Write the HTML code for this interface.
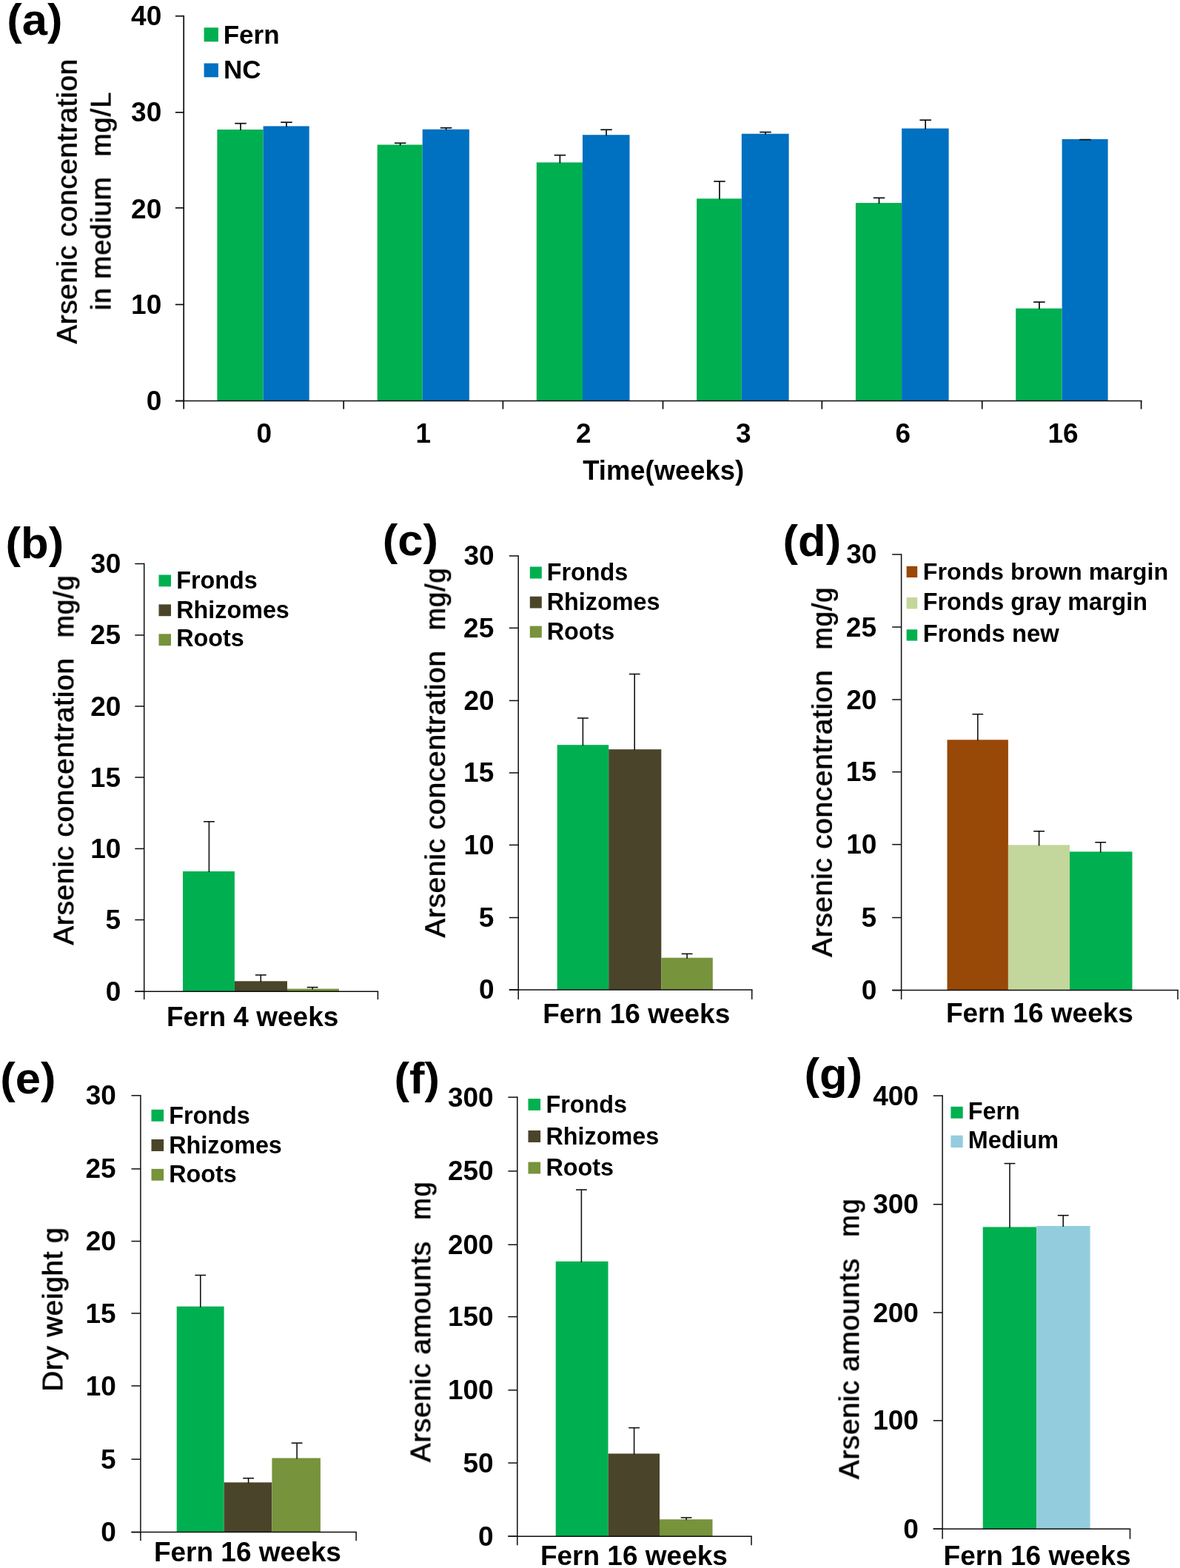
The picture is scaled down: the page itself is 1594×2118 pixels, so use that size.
<!DOCTYPE html>
<html lang="en">
<head>
<meta charset="utf-8">
<title>Arsenic accumulation in fern</title>
<style>
html,body{margin:0;padding:0;background:#fff;overflow:hidden;}
svg{display:block;}
text{fill:#000;font-family:"Liberation Sans",sans-serif;}
text.b{font-weight:bold;}
text.r{font-weight:normal;}
</style>
</head>
<body>
<svg width="1594" height="2118" viewBox="0 0 1594 2118">
<defs><filter id="fb" x="-2%" y="-30%" width="104%" height="160%" color-interpolation-filters="sRGB"><feOffset in="SourceGraphic" dx="0.9" dy="0" result="o"/><feMerge><feMergeNode in="SourceGraphic"/><feMergeNode in="o"/></feMerge></filter></defs>
<rect x="0" y="0" width="1594" height="2118" fill="#fff"/>
<text transform="translate(9.34,47.2) scale(1,0.976)" font-size="61.6" class="b" text-anchor="start">(a)</text>
<line x1="248.2" y1="20.85" x2="248.2" y2="552.5" stroke="#0d0d0d" stroke-width="1.7"/>
<line x1="236.9" y1="21.7" x2="248.2" y2="21.7" stroke="#0d0d0d" stroke-width="1.7"/>
<text x="218.24" y="34.2" font-size="37" class="b" text-anchor="end">40</text>
<line x1="236.9" y1="151.8" x2="248.2" y2="151.8" stroke="#0d0d0d" stroke-width="1.7"/>
<text x="218.24" y="164.3" font-size="37" class="b" text-anchor="end">30</text>
<line x1="236.9" y1="280.8" x2="248.2" y2="280.8" stroke="#0d0d0d" stroke-width="1.7"/>
<text x="218.24" y="294.7" font-size="37" class="b" text-anchor="end">20</text>
<line x1="236.9" y1="411.4" x2="248.2" y2="411.4" stroke="#0d0d0d" stroke-width="1.7"/>
<text x="218.24" y="423.6" font-size="37" class="b" text-anchor="end">10</text>
<line x1="236.9" y1="541.5" x2="248.2" y2="541.5" stroke="#0d0d0d" stroke-width="1.7"/>
<text x="218.24" y="553.5" font-size="37" class="b" text-anchor="end">0</text>
<rect x="293.4" y="175" width="62.2" height="366.5" fill="#00B050"/>
<rect x="355.6" y="170.4" width="62.1" height="371.1" fill="#0070C0"/>
<line x1="325" y1="166.7" x2="325" y2="176" stroke="#0d0d0d" stroke-width="1.7"/>
<line x1="317.25" y1="166.7" x2="332.75" y2="166.7" stroke="#0d0d0d" stroke-width="1.7"/>
<line x1="386.95" y1="165.2" x2="386.95" y2="171.4" stroke="#0d0d0d" stroke-width="1.7"/>
<line x1="379.2" y1="165.2" x2="394.7" y2="165.2" stroke="#0d0d0d" stroke-width="1.7"/>
<rect x="509.7" y="195.5" width="61" height="346" fill="#00B050"/>
<rect x="570.7" y="174.7" width="63.2" height="366.8" fill="#0070C0"/>
<line x1="540.7" y1="193.3" x2="540.7" y2="196.5" stroke="#0d0d0d" stroke-width="1.7"/>
<line x1="532.95" y1="193.3" x2="548.45" y2="193.3" stroke="#0d0d0d" stroke-width="1.7"/>
<line x1="602.6" y1="172.7" x2="602.6" y2="175.7" stroke="#0d0d0d" stroke-width="1.7"/>
<line x1="594.85" y1="172.7" x2="610.35" y2="172.7" stroke="#0d0d0d" stroke-width="1.7"/>
<rect x="724.8" y="219.4" width="62.2" height="322.1" fill="#00B050"/>
<rect x="787" y="182.2" width="63.5" height="359.3" fill="#0070C0"/>
<line x1="756.4" y1="209.6" x2="756.4" y2="220.4" stroke="#0d0d0d" stroke-width="1.7"/>
<line x1="748.65" y1="209.6" x2="764.15" y2="209.6" stroke="#0d0d0d" stroke-width="1.7"/>
<line x1="819.05" y1="175.2" x2="819.05" y2="183.2" stroke="#0d0d0d" stroke-width="1.7"/>
<line x1="811.3" y1="175.2" x2="826.8" y2="175.2" stroke="#0d0d0d" stroke-width="1.7"/>
<rect x="941.1" y="268.3" width="60.7" height="273.2" fill="#00B050"/>
<rect x="1001.8" y="180.7" width="63.8" height="360.8" fill="#0070C0"/>
<line x1="971.95" y1="245" x2="971.95" y2="269.3" stroke="#0d0d0d" stroke-width="1.7"/>
<line x1="964.2" y1="245" x2="979.7" y2="245" stroke="#0d0d0d" stroke-width="1.7"/>
<line x1="1034" y1="178.5" x2="1034" y2="181.7" stroke="#0d0d0d" stroke-width="1.7"/>
<line x1="1026.25" y1="178.5" x2="1041.75" y2="178.5" stroke="#0d0d0d" stroke-width="1.7"/>
<rect x="1155.9" y="274.1" width="62.2" height="267.4" fill="#00B050"/>
<rect x="1218.1" y="173.5" width="63.5" height="368" fill="#0070C0"/>
<line x1="1187.5" y1="267.3" x2="1187.5" y2="275.1" stroke="#0d0d0d" stroke-width="1.7"/>
<line x1="1179.75" y1="267.3" x2="1195.25" y2="267.3" stroke="#0d0d0d" stroke-width="1.7"/>
<line x1="1250.15" y1="162.2" x2="1250.15" y2="174.5" stroke="#0d0d0d" stroke-width="1.7"/>
<line x1="1242.4" y1="162.2" x2="1257.9" y2="162.2" stroke="#0d0d0d" stroke-width="1.7"/>
<rect x="1372.2" y="416.6" width="62.4" height="124.9" fill="#00B050"/>
<rect x="1434.6" y="188" width="62" height="353.5" fill="#0070C0"/>
<line x1="1403.9" y1="408" x2="1403.9" y2="417.6" stroke="#0d0d0d" stroke-width="1.7"/>
<line x1="1396.15" y1="408" x2="1411.65" y2="408" stroke="#0d0d0d" stroke-width="1.7"/>
<line x1="1465.9" y1="188.6" x2="1465.9" y2="189" stroke="#0d0d0d" stroke-width="1.7"/>
<line x1="1458.15" y1="188.6" x2="1473.65" y2="188.6" stroke="#0d0d0d" stroke-width="1.7"/>
<line x1="237" y1="541.5" x2="1542.6" y2="541.5" stroke="#0d0d0d" stroke-width="1.7"/>
<line x1="464.2" y1="541.5" x2="464.2" y2="552.6" stroke="#0d0d0d" stroke-width="1.7"/>
<line x1="679.4" y1="541.5" x2="679.4" y2="552.6" stroke="#0d0d0d" stroke-width="1.7"/>
<line x1="895.5" y1="541.5" x2="895.5" y2="552.6" stroke="#0d0d0d" stroke-width="1.7"/>
<line x1="1110.3" y1="541.5" x2="1110.3" y2="552.6" stroke="#0d0d0d" stroke-width="1.7"/>
<line x1="1326.7" y1="541.5" x2="1326.7" y2="552.6" stroke="#0d0d0d" stroke-width="1.7"/>
<line x1="1541.6" y1="541.5" x2="1541.6" y2="552.6" stroke="#0d0d0d" stroke-width="1.7"/>
<text x="346.62" y="597.8" font-size="37" class="b" text-anchor="start">0</text>
<text x="561.59" y="597.8" font-size="37" class="b" text-anchor="start">1</text>
<text x="778.03" y="597.8" font-size="37" class="b" text-anchor="start">2</text>
<text x="994.01" y="597.8" font-size="37" class="b" text-anchor="start">3</text>
<text x="1209.62" y="597.8" font-size="37" class="b" text-anchor="start">6</text>
<text x="1415.38" y="597.8" font-size="37" class="b" text-anchor="start">16</text>
<text x="787.24" y="648.4" font-size="36.4" class="b" text-anchor="start">Time(weeks)</text>
<rect x="275.6" y="37.3" width="19.3" height="19" fill="#00B050"/>
<rect x="275.6" y="85.5" width="19.3" height="18.8" fill="#0070C0"/>
<text x="301.7" y="59" font-size="35" class="b" text-anchor="start">Fern</text>
<text x="302.1" y="106.4" font-size="35" class="b" text-anchor="start">NC</text>
<text transform="translate(103.8,464.9) rotate(-90) scale(0.9479,0.955)" font-size="40.3" letter-spacing="0.913" class="r" filter="url(#fb)">Arsenic concentration</text>
<text transform="translate(149.6,419.53) rotate(-90) scale(0.9242,0.955)" font-size="40.3" letter-spacing="1.095" class="r" filter="url(#fb)">in medium</text>
<text transform="translate(149.6,211.93) rotate(-90) scale(0.9242,0.955)" font-size="40.3" letter-spacing="1.407" class="r" filter="url(#fb)">mg/L</text>
<text transform="translate(7.54,754.1) scale(1,0.976)" font-size="61.6" class="b" text-anchor="start">(b)</text>
<rect x="247" y="1177" width="69.9" height="162.3" fill="#00B050"/>
<rect x="316.9" y="1325.3" width="71.1" height="14" fill="#4A452A"/>
<rect x="388" y="1335.6" width="69.9" height="3.7" fill="#77933C"/>
<line x1="282.4" y1="1109.8" x2="282.4" y2="1178" stroke="#0d0d0d" stroke-width="1.55"/>
<line x1="275" y1="1109.8" x2="289.8" y2="1109.8" stroke="#0d0d0d" stroke-width="1.55"/>
<line x1="352.3" y1="1317" x2="352.3" y2="1326.3" stroke="#0d0d0d" stroke-width="1.55"/>
<line x1="344.9" y1="1317" x2="359.7" y2="1317" stroke="#0d0d0d" stroke-width="1.55"/>
<line x1="422.1" y1="1333.6" x2="422.1" y2="1336.6" stroke="#0d0d0d" stroke-width="1.55"/>
<line x1="414.7" y1="1333.6" x2="429.5" y2="1333.6" stroke="#0d0d0d" stroke-width="1.55"/>
<line x1="194.7" y1="760.75" x2="194.7" y2="1350.1" stroke="#0d0d0d" stroke-width="1.5"/>
<line x1="182.3" y1="761.5" x2="194.7" y2="761.5" stroke="#0d0d0d" stroke-width="1.5"/>
<text x="163.34" y="774" font-size="37" class="b" text-anchor="end">30</text>
<line x1="182.3" y1="857.9" x2="194.7" y2="857.9" stroke="#0d0d0d" stroke-width="1.5"/>
<text x="162.97" y="870.4" font-size="37" class="b" text-anchor="end">25</text>
<line x1="182.3" y1="954" x2="194.7" y2="954" stroke="#0d0d0d" stroke-width="1.5"/>
<text x="163.34" y="966.5" font-size="37" class="b" text-anchor="end">20</text>
<line x1="182.3" y1="1050" x2="194.7" y2="1050" stroke="#0d0d0d" stroke-width="1.5"/>
<text x="162.97" y="1062.5" font-size="37" class="b" text-anchor="end">15</text>
<line x1="182.3" y1="1146.4" x2="194.7" y2="1146.4" stroke="#0d0d0d" stroke-width="1.5"/>
<text x="163.34" y="1158.9" font-size="37" class="b" text-anchor="end">10</text>
<line x1="182.3" y1="1242.5" x2="194.7" y2="1242.5" stroke="#0d0d0d" stroke-width="1.5"/>
<text x="162.97" y="1255" font-size="37" class="b" text-anchor="end">5</text>
<line x1="182.3" y1="1339.3" x2="194.7" y2="1339.3" stroke="#0d0d0d" stroke-width="1.5"/>
<text x="163.34" y="1351.8" font-size="37" class="b" text-anchor="end">0</text>
<line x1="182.3" y1="1339.3" x2="511.15" y2="1339.3" stroke="#0d0d0d" stroke-width="1.5"/>
<line x1="510.4" y1="1339.3" x2="510.4" y2="1350.1" stroke="#0d0d0d" stroke-width="1.5"/>
<rect x="214.5" y="776.5" width="16.5" height="15.8" fill="#00B050"/>
<text x="238.16" y="795.3" font-size="32.35" class="b" text-anchor="start">Fronds</text>
<rect x="214.5" y="816.4" width="16.5" height="15.8" fill="#4A452A"/>
<text x="238.16" y="835.2" font-size="32.35" class="b" text-anchor="start">Rhizomes</text>
<rect x="214.5" y="856.3" width="16.5" height="15.8" fill="#77933C"/>
<text x="238.16" y="873.4" font-size="32.35" class="b" text-anchor="start">Roots</text>
<text x="224.88" y="1386.3" font-size="37" class="b" text-anchor="start">Fern 4 weeks</text>
<text transform="translate(99.4,1277) rotate(-90) scale(0.9550,0.955)" font-size="40.3" letter-spacing="0.913" class="r" filter="url(#fb)">Arsenic concentration</text>
<text transform="translate(99.4,861.66) rotate(-90) scale(0.8934,0.955)" font-size="40.3" letter-spacing="1.407" class="r" filter="url(#fb)">mg/g</text>
<text transform="translate(516.84,750.1) scale(1,0.976)" font-size="61.6" class="b" text-anchor="start">(c)</text>
<rect x="752.7" y="1006.2" width="69.5" height="330.7" fill="#00B050"/>
<rect x="822.2" y="1012.2" width="71.1" height="324.7" fill="#4A452A"/>
<rect x="893.3" y="1293.7" width="69.5" height="43.2" fill="#77933C"/>
<line x1="787.4" y1="970" x2="787.4" y2="1007.2" stroke="#0d0d0d" stroke-width="1.55"/>
<line x1="780" y1="970" x2="794.8" y2="970" stroke="#0d0d0d" stroke-width="1.55"/>
<line x1="857.2" y1="910.5" x2="857.2" y2="1013.2" stroke="#0d0d0d" stroke-width="1.55"/>
<line x1="849.8" y1="910.5" x2="864.6" y2="910.5" stroke="#0d0d0d" stroke-width="1.55"/>
<line x1="928.1" y1="1288.4" x2="928.1" y2="1294.7" stroke="#0d0d0d" stroke-width="1.55"/>
<line x1="920.7" y1="1288.4" x2="935.5" y2="1288.4" stroke="#0d0d0d" stroke-width="1.55"/>
<line x1="700.2" y1="750.15" x2="700.2" y2="1349.9" stroke="#0d0d0d" stroke-width="1.5"/>
<line x1="687.8" y1="750.9" x2="700.2" y2="750.9" stroke="#0d0d0d" stroke-width="1.5"/>
<text x="667.64" y="763.4" font-size="37" class="b" text-anchor="end">30</text>
<line x1="687.8" y1="848.3" x2="700.2" y2="848.3" stroke="#0d0d0d" stroke-width="1.5"/>
<text x="667.27" y="860.8" font-size="37" class="b" text-anchor="end">25</text>
<line x1="687.8" y1="946.4" x2="700.2" y2="946.4" stroke="#0d0d0d" stroke-width="1.5"/>
<text x="667.64" y="958.9" font-size="37" class="b" text-anchor="end">20</text>
<line x1="687.8" y1="1043.9" x2="700.2" y2="1043.9" stroke="#0d0d0d" stroke-width="1.5"/>
<text x="667.27" y="1056.4" font-size="37" class="b" text-anchor="end">15</text>
<line x1="687.8" y1="1141.4" x2="700.2" y2="1141.4" stroke="#0d0d0d" stroke-width="1.5"/>
<text x="667.64" y="1153.9" font-size="37" class="b" text-anchor="end">10</text>
<line x1="687.8" y1="1239.5" x2="700.2" y2="1239.5" stroke="#0d0d0d" stroke-width="1.5"/>
<text x="667.27" y="1252" font-size="37" class="b" text-anchor="end">5</text>
<line x1="687.8" y1="1336.9" x2="700.2" y2="1336.9" stroke="#0d0d0d" stroke-width="1.5"/>
<text x="667.64" y="1349.4" font-size="37" class="b" text-anchor="end">0</text>
<line x1="687.8" y1="1336.9" x2="1016.45" y2="1336.9" stroke="#0d0d0d" stroke-width="1.5"/>
<line x1="1015.7" y1="1336.9" x2="1015.7" y2="1349.9" stroke="#0d0d0d" stroke-width="1.5"/>
<rect x="715.8" y="765.5" width="16" height="16" fill="#00B050"/>
<text x="738.76" y="783.6" font-size="32.35" class="b" text-anchor="start">Fronds</text>
<rect x="715.8" y="805.7" width="16" height="15.8" fill="#4A452A"/>
<text x="738.76" y="824.2" font-size="32.35" class="b" text-anchor="start">Rhizomes</text>
<rect x="715.8" y="845.6" width="16" height="15.8" fill="#77933C"/>
<text x="738.76" y="864.1" font-size="32.35" class="b" text-anchor="start">Roots</text>
<text x="733.28" y="1381.5" font-size="37" class="b" text-anchor="start">Fern 16 weeks</text>
<text transform="translate(601.3,1267) rotate(-90) scale(0.9550,0.955)" font-size="40.3" letter-spacing="0.913" class="r" filter="url(#fb)">Arsenic concentration</text>
<text transform="translate(601.3,851.66) rotate(-90) scale(0.8934,0.955)" font-size="40.3" letter-spacing="1.407" class="r" filter="url(#fb)">mg/g</text>
<text transform="translate(1057.54,750.6) scale(1,0.976)" font-size="61.6" class="b" text-anchor="start">(d)</text>
<rect x="1279.5" y="999.3" width="82.4" height="338.3" fill="#984807"/>
<rect x="1361.9" y="1141.4" width="83.1" height="196.2" fill="#C3D69B"/>
<rect x="1445" y="1150.4" width="84.5" height="187.2" fill="#00B050"/>
<line x1="1320.8" y1="964.7" x2="1320.8" y2="1000.3" stroke="#0d0d0d" stroke-width="1.55"/>
<line x1="1313.4" y1="964.7" x2="1328.2" y2="964.7" stroke="#0d0d0d" stroke-width="1.55"/>
<line x1="1403.6" y1="1122.8" x2="1403.6" y2="1142.4" stroke="#0d0d0d" stroke-width="1.55"/>
<line x1="1396.2" y1="1122.8" x2="1411" y2="1122.8" stroke="#0d0d0d" stroke-width="1.55"/>
<line x1="1486.7" y1="1137.8" x2="1486.7" y2="1151.4" stroke="#0d0d0d" stroke-width="1.55"/>
<line x1="1479.3" y1="1137.8" x2="1494.1" y2="1137.8" stroke="#0d0d0d" stroke-width="1.55"/>
<line x1="1217.6" y1="748.15" x2="1217.6" y2="1350" stroke="#0d0d0d" stroke-width="1.5"/>
<line x1="1205.2" y1="748.9" x2="1217.6" y2="748.9" stroke="#0d0d0d" stroke-width="1.5"/>
<text x="1184.34" y="761.4" font-size="37" class="b" text-anchor="end">30</text>
<line x1="1205.2" y1="847" x2="1217.6" y2="847" stroke="#0d0d0d" stroke-width="1.5"/>
<text x="1183.97" y="859.5" font-size="37" class="b" text-anchor="end">25</text>
<line x1="1205.2" y1="945" x2="1217.6" y2="945" stroke="#0d0d0d" stroke-width="1.5"/>
<text x="1184.34" y="957.5" font-size="37" class="b" text-anchor="end">20</text>
<line x1="1205.2" y1="1042.7" x2="1217.6" y2="1042.7" stroke="#0d0d0d" stroke-width="1.5"/>
<text x="1183.97" y="1055.2" font-size="37" class="b" text-anchor="end">15</text>
<line x1="1205.2" y1="1140.7" x2="1217.6" y2="1140.7" stroke="#0d0d0d" stroke-width="1.5"/>
<text x="1184.34" y="1153.2" font-size="37" class="b" text-anchor="end">10</text>
<line x1="1205.2" y1="1239.5" x2="1217.6" y2="1239.5" stroke="#0d0d0d" stroke-width="1.5"/>
<text x="1183.97" y="1252" font-size="37" class="b" text-anchor="end">5</text>
<line x1="1205.2" y1="1337.6" x2="1217.6" y2="1337.6" stroke="#0d0d0d" stroke-width="1.5"/>
<text x="1184.34" y="1350.1" font-size="37" class="b" text-anchor="end">0</text>
<line x1="1205.2" y1="1337.6" x2="1591.75" y2="1337.6" stroke="#0d0d0d" stroke-width="1.5"/>
<line x1="1591" y1="1337.6" x2="1591" y2="1350" stroke="#0d0d0d" stroke-width="1.5"/>
<rect x="1224.6" y="764.8" width="14.6" height="15.2" fill="#984807"/>
<text x="1246.77" y="782.8" font-size="32.25" class="b" text-anchor="start">Fronds brown margin</text>
<rect x="1224.6" y="807" width="14.6" height="15.4" fill="#C3D69B"/>
<text x="1246.76" y="824.4" font-size="32.3" class="b" text-anchor="start">Fronds gray margin</text>
<rect x="1224.6" y="850.3" width="14.6" height="15.2" fill="#00B050"/>
<text x="1246.73" y="867" font-size="32.8" class="b" text-anchor="start">Fronds new</text>
<text x="1277.88" y="1380.8" font-size="37" class="b" text-anchor="start">Fern 16 weeks</text>
<text transform="translate(1123.9,1293.2) rotate(-90) scale(0.9550,0.955)" font-size="40.3" letter-spacing="0.913" class="r" filter="url(#fb)">Arsenic concentration</text>
<text transform="translate(1123.9,877.86) rotate(-90) scale(0.8934,0.955)" font-size="40.3" letter-spacing="1.407" class="r" filter="url(#fb)">mg/g</text>
<text transform="translate(0.24,1477.1) scale(1,0.976)" font-size="61.6" class="b" text-anchor="start">(e)</text>
<rect x="238.7" y="1764.7" width="63.9" height="304.9" fill="#00B050"/>
<rect x="302.6" y="2002.4" width="64.8" height="67.2" fill="#4A452A"/>
<rect x="367.4" y="1969.5" width="65.5" height="100.1" fill="#77933C"/>
<line x1="270.8" y1="1722.5" x2="270.8" y2="1765.7" stroke="#0d0d0d" stroke-width="1.55"/>
<line x1="263.4" y1="1722.5" x2="278.2" y2="1722.5" stroke="#0d0d0d" stroke-width="1.55"/>
<line x1="335.6" y1="1996.7" x2="335.6" y2="2003.4" stroke="#0d0d0d" stroke-width="1.55"/>
<line x1="328.2" y1="1996.7" x2="343" y2="1996.7" stroke="#0d0d0d" stroke-width="1.55"/>
<line x1="401.1" y1="1949.2" x2="401.1" y2="1970.5" stroke="#0d0d0d" stroke-width="1.55"/>
<line x1="393.7" y1="1949.2" x2="408.5" y2="1949.2" stroke="#0d0d0d" stroke-width="1.55"/>
<line x1="189.9" y1="1479.05" x2="189.9" y2="2081.2" stroke="#0d0d0d" stroke-width="1.5"/>
<line x1="177.5" y1="1479.8" x2="189.9" y2="1479.8" stroke="#0d0d0d" stroke-width="1.5"/>
<text x="156.94" y="1492.3" font-size="37" class="b" text-anchor="end">30</text>
<line x1="177.5" y1="1578.9" x2="189.9" y2="1578.9" stroke="#0d0d0d" stroke-width="1.5"/>
<text x="156.57" y="1591.4" font-size="37" class="b" text-anchor="end">25</text>
<line x1="177.5" y1="1676.6" x2="189.9" y2="1676.6" stroke="#0d0d0d" stroke-width="1.5"/>
<text x="156.94" y="1689.1" font-size="37" class="b" text-anchor="end">20</text>
<line x1="177.5" y1="1774" x2="189.9" y2="1774" stroke="#0d0d0d" stroke-width="1.5"/>
<text x="156.57" y="1786.5" font-size="37" class="b" text-anchor="end">15</text>
<line x1="177.5" y1="1872" x2="189.9" y2="1872" stroke="#0d0d0d" stroke-width="1.5"/>
<text x="156.94" y="1884.5" font-size="37" class="b" text-anchor="end">10</text>
<line x1="177.5" y1="1971.1" x2="189.9" y2="1971.1" stroke="#0d0d0d" stroke-width="1.5"/>
<text x="156.57" y="1983.6" font-size="37" class="b" text-anchor="end">5</text>
<line x1="177.5" y1="2069.6" x2="189.9" y2="2069.6" stroke="#0d0d0d" stroke-width="1.5"/>
<text x="156.94" y="2082.1" font-size="37" class="b" text-anchor="end">0</text>
<line x1="177.5" y1="2069.6" x2="481.85" y2="2069.6" stroke="#0d0d0d" stroke-width="1.5"/>
<line x1="481.1" y1="2069.6" x2="481.1" y2="2081.2" stroke="#0d0d0d" stroke-width="1.5"/>
<rect x="204.5" y="1498.8" width="16.6" height="15.9" fill="#00B050"/>
<text x="228.16" y="1517.5" font-size="32.35" class="b" text-anchor="start">Fronds</text>
<rect x="204.5" y="1539" width="16.6" height="16" fill="#4A452A"/>
<text x="228.16" y="1557.5" font-size="32.35" class="b" text-anchor="start">Rhizomes</text>
<rect x="204.5" y="1578.9" width="16.6" height="15.8" fill="#77933C"/>
<text x="228.16" y="1597.3" font-size="32.35" class="b" text-anchor="start">Roots</text>
<text x="207.88" y="2108.6" font-size="37" class="b" text-anchor="start">Fern 16 weeks</text>
<text transform="translate(84.5,1879.96) rotate(-90) scale(0.9479,0.955)" font-size="40.3" letter-spacing="0.997" class="r" filter="url(#fb)">Dry weight</text>
<text transform="translate(84.5,1679.49) rotate(-90) scale(0.9242,0.955)" font-size="40.3" letter-spacing="1.056" class="r" filter="url(#fb)">g</text>
<text transform="translate(532.44,1477.1) scale(1,0.976)" font-size="61.6" class="b" text-anchor="start">(f)</text>
<rect x="750.7" y="1703.9" width="70.8" height="371.3" fill="#00B050"/>
<rect x="821.5" y="1963.5" width="69.5" height="111.7" fill="#4A452A"/>
<rect x="891" y="2052.3" width="71.5" height="22.9" fill="#77933C"/>
<line x1="785.4" y1="1607.1" x2="785.4" y2="1704.9" stroke="#0d0d0d" stroke-width="1.55"/>
<line x1="778" y1="1607.1" x2="792.8" y2="1607.1" stroke="#0d0d0d" stroke-width="1.55"/>
<line x1="856.6" y1="1928.6" x2="856.6" y2="1964.5" stroke="#0d0d0d" stroke-width="1.55"/>
<line x1="849.2" y1="1928.6" x2="864" y2="1928.6" stroke="#0d0d0d" stroke-width="1.55"/>
<line x1="927.1" y1="2050" x2="927.1" y2="2053.3" stroke="#0d0d0d" stroke-width="1.55"/>
<line x1="919.7" y1="2050" x2="934.5" y2="2050" stroke="#0d0d0d" stroke-width="1.55"/>
<line x1="698.8" y1="1481.35" x2="698.8" y2="2087.2" stroke="#0d0d0d" stroke-width="1.5"/>
<line x1="686.4" y1="1482.1" x2="698.8" y2="1482.1" stroke="#0d0d0d" stroke-width="1.5"/>
<text x="666.64" y="1494.6" font-size="37" class="b" text-anchor="end">300</text>
<line x1="686.4" y1="1581.9" x2="698.8" y2="1581.9" stroke="#0d0d0d" stroke-width="1.5"/>
<text x="666.64" y="1594.4" font-size="37" class="b" text-anchor="end">250</text>
<line x1="686.4" y1="1681.3" x2="698.8" y2="1681.3" stroke="#0d0d0d" stroke-width="1.5"/>
<text x="666.64" y="1693.8" font-size="37" class="b" text-anchor="end">200</text>
<line x1="686.4" y1="1778.6" x2="698.8" y2="1778.6" stroke="#0d0d0d" stroke-width="1.5"/>
<text x="666.64" y="1791.1" font-size="37" class="b" text-anchor="end">150</text>
<line x1="686.4" y1="1877.7" x2="698.8" y2="1877.7" stroke="#0d0d0d" stroke-width="1.5"/>
<text x="666.64" y="1890.2" font-size="37" class="b" text-anchor="end">100</text>
<line x1="686.4" y1="1976.1" x2="698.8" y2="1976.1" stroke="#0d0d0d" stroke-width="1.5"/>
<text x="666.64" y="1988.6" font-size="37" class="b" text-anchor="end">50</text>
<line x1="686.4" y1="2075.2" x2="698.8" y2="2075.2" stroke="#0d0d0d" stroke-width="1.5"/>
<text x="666.64" y="2087.7" font-size="37" class="b" text-anchor="end">0</text>
<line x1="686.4" y1="2075.2" x2="1015.75" y2="2075.2" stroke="#0d0d0d" stroke-width="1.5"/>
<line x1="1015" y1="2075.2" x2="1015" y2="2087.2" stroke="#0d0d0d" stroke-width="1.5"/>
<rect x="713.5" y="1484.1" width="16.6" height="15.8" fill="#00B050"/>
<text x="737.46" y="1502.6" font-size="32.35" class="b" text-anchor="start">Fronds</text>
<rect x="713.5" y="1527" width="16.6" height="16" fill="#4A452A"/>
<text x="737.46" y="1545.8" font-size="32.35" class="b" text-anchor="start">Rhizomes</text>
<rect x="713.5" y="1569.6" width="16.6" height="15.9" fill="#77933C"/>
<text x="737.46" y="1587.7" font-size="32.35" class="b" text-anchor="start">Roots</text>
<text x="729.88" y="2113.6" font-size="37" class="b" text-anchor="start">Fern 16 weeks</text>
<text transform="translate(581.5,1975.5) rotate(-90) scale(0.9479,0.955)" font-size="40.3" letter-spacing="1.010" class="r" filter="url(#fb)">Arsenic amounts</text>
<text transform="translate(581.5,1648.1) rotate(-90) scale(0.8673,0.955)" font-size="40.3" letter-spacing="2.638" class="r" filter="url(#fb)">mg</text>
<text transform="translate(1086.44,1471.1) scale(1,0.976)" font-size="61.6" class="b" text-anchor="start">(g)</text>
<rect x="1327.7" y="1657.4" width="72.5" height="407.8" fill="#00B050"/>
<rect x="1400.2" y="1656" width="72.4" height="409.2" fill="#93CDDD"/>
<line x1="1364" y1="1571.6" x2="1364" y2="1658.4" stroke="#0d0d0d" stroke-width="1.55"/>
<line x1="1356.6" y1="1571.6" x2="1371.4" y2="1571.6" stroke="#0d0d0d" stroke-width="1.55"/>
<line x1="1436.2" y1="1641.7" x2="1436.2" y2="1657" stroke="#0d0d0d" stroke-width="1.55"/>
<line x1="1428.8" y1="1641.7" x2="1443.6" y2="1641.7" stroke="#0d0d0d" stroke-width="1.55"/>
<line x1="1273.1" y1="1479.35" x2="1273.1" y2="2078.8" stroke="#0d0d0d" stroke-width="1.5"/>
<line x1="1260.7" y1="1480.1" x2="1273.1" y2="1480.1" stroke="#0d0d0d" stroke-width="1.5"/>
<text x="1240.94" y="1492.6" font-size="37" class="b" text-anchor="end">400</text>
<line x1="1260.7" y1="1626.8" x2="1273.1" y2="1626.8" stroke="#0d0d0d" stroke-width="1.5"/>
<text x="1240.94" y="1639.3" font-size="37" class="b" text-anchor="end">300</text>
<line x1="1260.7" y1="1773" x2="1273.1" y2="1773" stroke="#0d0d0d" stroke-width="1.5"/>
<text x="1240.94" y="1785.5" font-size="37" class="b" text-anchor="end">200</text>
<line x1="1260.7" y1="1918.9" x2="1273.1" y2="1918.9" stroke="#0d0d0d" stroke-width="1.5"/>
<text x="1240.94" y="1931.4" font-size="37" class="b" text-anchor="end">100</text>
<line x1="1260.7" y1="2065.2" x2="1273.1" y2="2065.2" stroke="#0d0d0d" stroke-width="1.5"/>
<text x="1240.94" y="2077.7" font-size="37" class="b" text-anchor="end">0</text>
<line x1="1260.7" y1="2065.2" x2="1527.25" y2="2065.2" stroke="#0d0d0d" stroke-width="1.5"/>
<line x1="1526.5" y1="2065.2" x2="1526.5" y2="2078.8" stroke="#0d0d0d" stroke-width="1.5"/>
<rect x="1284.4" y="1494.8" width="16.3" height="15.9" fill="#00B050"/>
<text x="1307.76" y="1512.3" font-size="32.35" class="b" text-anchor="start">Fern</text>
<rect x="1284.4" y="1533.7" width="16.3" height="16.3" fill="#93CDDD"/>
<text x="1307.76" y="1551.2" font-size="32.35" class="b" text-anchor="start">Medium</text>
<text x="1274.58" y="2113.6" font-size="37" class="b" text-anchor="start">Fern 16 weeks</text>
<text transform="translate(1160.4,1998.5) rotate(-90) scale(0.9479,0.955)" font-size="40.3" letter-spacing="1.010" class="r" filter="url(#fb)">Arsenic amounts</text>
<text transform="translate(1160.4,1671.1) rotate(-90) scale(0.8673,0.955)" font-size="40.3" letter-spacing="2.638" class="r" filter="url(#fb)">mg</text>
</svg>
</body>
</html>
